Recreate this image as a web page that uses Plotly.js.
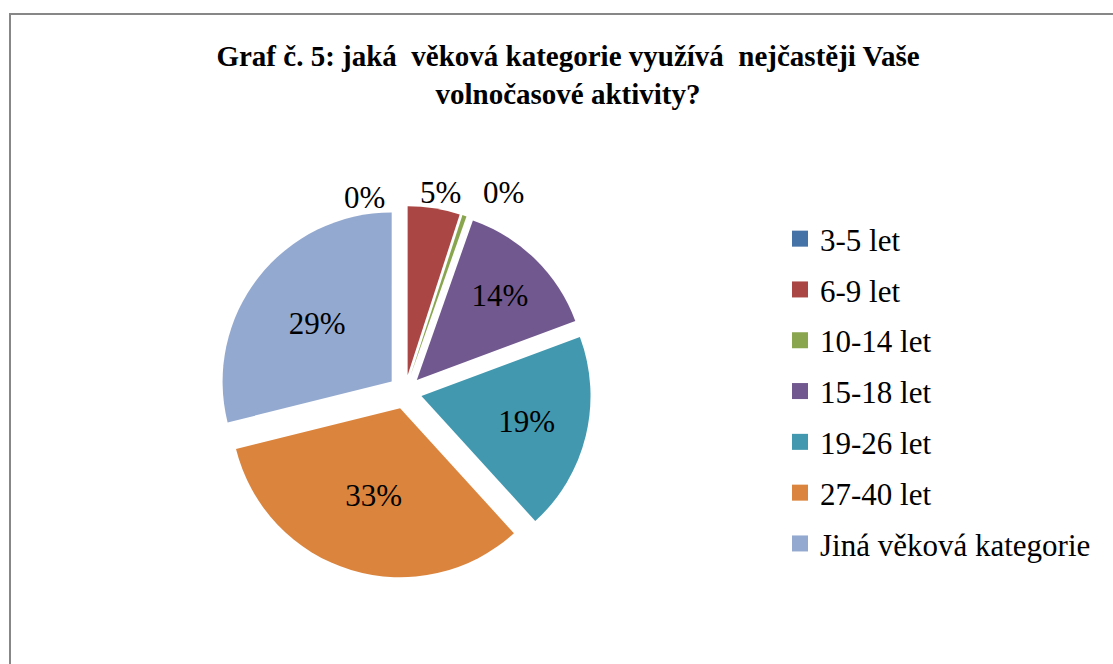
<!DOCTYPE html>
<html>
<head>
<meta charset="utf-8">
<script src="https://cdn.plot.ly/plotly-3.0.1.min.js"></script>
<style>
  html, body { margin: 0; padding: 0; background: #fff; overflow: hidden; }
  #frame { position: absolute; left: 9px; top: 13px; width: 1200px; height: 700px;
           border-left: 2px solid #878787; border-top: 2px solid #878787; }
  #chart { position: absolute; left: 0; top: 0; width: 1113px; height: 664px; }
</style>
</head>
<body>
<div id="frame"></div>
<div id="chart"></div>
<script>
const categories = ["3-5 let", "6-9 let", "10-14 let", "15-18 let", "19-26 let", "27-40 let", "Jiná věková kategorie"];
const shares = [0, 5, 0.4, 14, 19, 33, 29];
const colors = ["#4572A7", "#AA4643", "#89A54E", "#71588F", "#4198AF", "#DB843D", "#93A9CF"];
const titleText = "Graf č. 5: jaká  věková kategorie využívá  nejčastěji Vaše<br>volnočasové aktivity?";

const W = 1113, H = 664;
const serif = "\"Liberation Serif\", \"Times New Roman\", Times, serif";

// slices with small shares get their labels as separate annotations (placed above the pie)
const insideLabel = shares.map(v => v >= 10);
const total = shares.reduce((a, b) => a + b, 0);
const pctText = shares.map(v => Math.round(v / total * 100) + "%");

const pie = {
  type: "pie",
  labels: categories,
  values: shares,
  sort: false,
  direction: "clockwise",
  rotation: 0,
  pull: 0.1,
  marker: { colors: colors, line: { width: 0 } },
  text: pctText,
  textinfo: "text",
  textposition: insideLabel.map(b => b ? "inside" : "none"),
  insidetextorientation: "horizontal",
  textfont: { family: serif, size: 31, color: "#000" },
  insidetextfont: { family: serif, size: 31, color: "#000" },
  domain: { x: [100 / W, 710 / W], y: [1 - 578 / H, 1 - 206 / H] },
  showlegend: false,
  hoverinfo: "label+percent"
};

// legend entries (one per category)
const legendTraces = categories.map((c, i) => ({
  type: "scatter",
  mode: "markers",
  x: [null], y: [null],
  name: c,
  legendgroup: "g" + i,
  marker: { symbol: "square", size: 16, color: colors[i] },
  showlegend: true,
  hoverinfo: "skip"
}));

// outside labels for small slices, positioned near the top of the pie
const outsidePos = [[364, 198], [440, 192], [503, 192]];
const annotations = [];
let k = 0;
shares.forEach((v, i) => {
  if (!insideLabel[i]) {
    const p = outsidePos[k++];
    annotations.push({
      xref: "paper", yref: "paper",
      x: p[0] / W, y: 1 - p[1] / H,
      text: pctText[i], showarrow: false,
      font: { family: serif, size: 31, color: "#000" },
      xanchor: "center", yanchor: "middle"
    });
  }
});

const layout = {
  width: W, height: H,
  margin: { l: 0, r: 0, t: 0, b: 0 },
  paper_bgcolor: "rgba(0,0,0,0)",
  plot_bgcolor: "rgba(0,0,0,0)",
  xaxis: { visible: false, range: [0, 1] },
  yaxis: { visible: false, range: [0, 1] },
  showlegend: true,
  annotations: annotations,
  title: {
    text: titleText,
    font: { family: serif, size: 29, color: "#000", weight: "bold" },
    x: 568 / W, xanchor: "center",
    y: 1 - 66 / H, yanchor: "top"
  },
  legend: {
    x: 780 / W, xanchor: "left",
    y: 1 - 212 / H, yanchor: "top",
    font: { family: serif, size: 31, color: "#000" },
    bgcolor: "rgba(0,0,0,0)",
    traceorder: "grouped",
    tracegroupgap: 7.5,
    itemclick: false
  }
};

Plotly.newPlot("chart", legendTraces.concat([pie]), layout, { displayModeBar: false, staticPlot: true });
</script>
</body>
</html>
